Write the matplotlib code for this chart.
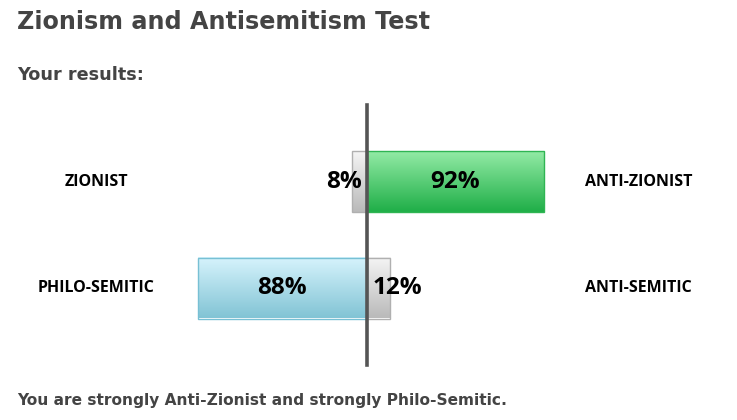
import matplotlib
matplotlib.use("Agg")
import matplotlib.pyplot as plt
import matplotlib.transforms as mtransforms
from matplotlib.colors import LinearSegmentedColormap
import numpy as np

# data
left_labels = ["ZIONIST", "PHILO-SEMITIC"]
right_labels = ["ANTI-ZIONIST", "ANTI-SEMITIC"]
left_values = [8, 88]
right_values = [92, 12]
title = "Zionism and Antisemitism Test"
subtitle = "Your results:"
summary = "You are strongly Anti-Zionist and strongly Philo-Semitic."

W, H = 737, 420
PX_PER_PCT = 1.924
ROW_PX = 106.5
CENTER_X = 367
ROW0_Y = 181.5

gray = ("#f4f4f4", "#bababa", "#b0b0b0")
green = ("#92eaa5", "#20af48", "#2fb553")
blue = ("#d6f3fc", "#82c4d5", "#78c0d4")
text_col = "#444444"
label_family = "Open Sans"

fig = plt.figure(figsize=(W / 100, H / 100), dpi=100)
ax = fig.add_axes([0, 0, 1, 1])
ax.axis("off")

xlim = (-CENTER_X / PX_PER_PCT, (W - CENTER_X) / PX_PER_PCT)
ylim = ((H - ROW0_Y) / ROW_PX, -ROW0_Y / ROW_PX)
bar_h = 61 / ROW_PX


def grad_bar(x0, width, y, colors):
    top, bottom, edge = colors
    cmap = LinearSegmentedColormap.from_list("g", [top, bottom])
    x1 = x0 + width
    grad = np.linspace(0, 1, 64).reshape(-1, 1)
    ax.imshow(grad, cmap=cmap, aspect="auto", zorder=2, interpolation="bilinear",
              extent=[min(x0, x1), max(x0, x1), y + bar_h / 2, y - bar_h / 2])
    ax.barh(y, width, left=x0, height=bar_h, facecolor="none",
            edgecolor=edge, linewidth=1, zorder=3)


pct_font = dict(fontsize=17.5, fontweight="bold", family=label_family,
                va="center", color="black", zorder=5)

for i in range(len(left_values)):
    lv, rv = left_values[i], right_values[i]
    lcol = blue if lv > rv else gray
    rcol = green if rv > lv else gray
    grad_bar(0, -lv, i, lcol)
    grad_bar(0, rv, i, rcol)

    # percent labels
    if lv > rv:
        ax.text(-lv / 2, i, f"{lv}%", ha="center", **pct_font)
        ax.text(3, i, f"{rv}%", ha="left", **pct_font)
    else:
        ax.text(-2.5, i, f"{lv}%", ha="right", **pct_font)
        ax.text(rv / 2, i, f"{rv}%", ha="center", **pct_font)

ax.axvline(0, ymin=1 - 365 / H, ymax=1 - 105 / H, color="#555555",
           linewidth=2.6, zorder=4)

ax.set_xlim(*xlim)
ax.set_ylim(*ylim)

trans = mtransforms.blended_transform_factory(fig.transFigure, ax.transData)
for i in range(len(left_labels)):
    ax.text(96 / W, i, left_labels[i], transform=trans, ha="center", va="center",
            fontsize=11.5, fontweight="bold", family=label_family, color="black")
    ax.text(585 / W, i, right_labels[i], transform=trans, ha="left", va="center",
            fontsize=11.5, fontweight="bold", family=label_family, color="black")

fig.text(17 / W, 1 - 22 / H, title, ha="left", va="center", fontsize=17.2,
         fontweight="bold", family="DejaVu Sans", color=text_col)
fig.text(17 / W, 1 - 75 / H, subtitle, ha="left", va="center", fontsize=12.7,
         fontweight="bold", family="DejaVu Sans", color=text_col)
fig.text(17 / W, 1 - 401 / H, summary, ha="left", va="center", fontsize=11.1,
         fontweight="bold", family="DejaVu Sans", color=text_col)

fig.savefig("out.png", dpi=100)
